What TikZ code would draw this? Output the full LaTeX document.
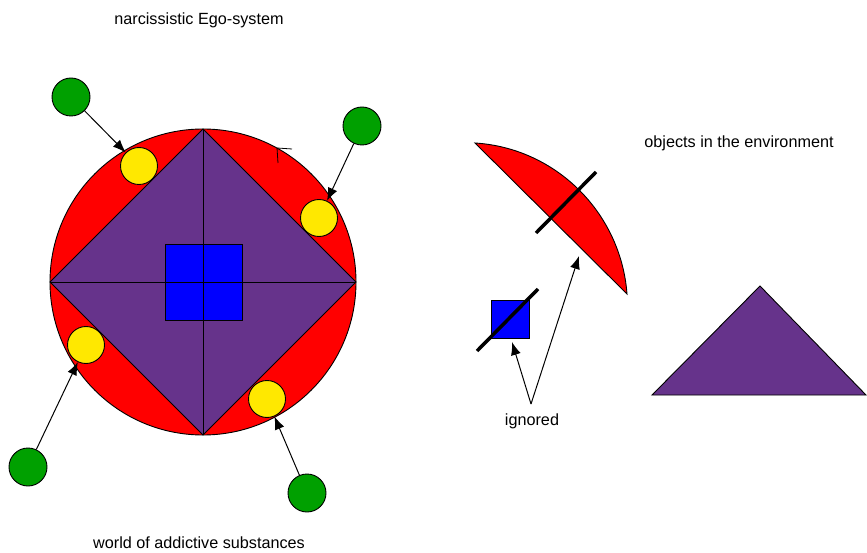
\documentclass[tikz,border=0pt]{standalone}
\usepackage{fontspec}
\setmainfont{Liberation Sans}
\usetikzlibrary{arrows.meta}
\definecolor{cRed}{RGB}{255,0,0}
\definecolor{cPurple}{RGB}{102,51,139}
\definecolor{cBlue}{RGB}{0,0,255}
\definecolor{cGreen}{RGB}{0,160,0}
\definecolor{cYellow}{RGB}{255,232,0}
\tikzset{
  outl/.style={draw=black, line width=0.9pt},
  greenball/.style={circle, outl, fill=cGreen, minimum size=38pt, inner sep=0pt},
  yellowball/.style={circle, outl, fill=cYellow, minimum size=37pt, inner sep=0pt},
  arr/.style={-{Latex[length=13pt,width=10pt]}, line width=1pt},
  strike/.style={line width=3.5pt, black},
  lbl/.style={font=\fontsize{16.2}{19}\selectfont, inner sep=0pt}
}
\begin{document}
\begin{tikzpicture}[x=1pt,y=-1pt]
\useasboundingbox (0,0) rectangle (867,553);
% main circle
\coordinate (ctr) at (203,282);
\filldraw[fill=cRed, outl] (ctr) circle (153pt);
\coordinate (dT) at (203,129);
\coordinate (dR) at (356,282);
\coordinate (dB) at (203,435);
\coordinate (dL) at (50,282);
\filldraw[fill=cPurple, outl] (dT) -- (dR) -- (dB) -- (dL) -- cycle;
\filldraw[fill=cBlue, outl] (165,244) rectangle (242,320);
\draw[outl] (dT) -- (dB);
\draw[outl] (dL) -- (dR);
% small tick mark
\draw[line width=0.8pt] (292,149) -- (277,148) -- (278,163);
% yellow balls
\node[yellowball] (y1) at (139,166) {};
\node[yellowball] (y2) at (319,218) {};
\node[yellowball] (y3) at (86,345) {};
\node[yellowball] (y4) at (267,399) {};
% green balls
\node[greenball] (g1) at (71,97) {};
\node[greenball] (g2) at (362,126) {};
\node[greenball] (g3) at (28,467) {};
\node[greenball] (g4) at (307,493) {};
\draw[arr] (g1) -- (y1);
\draw[arr] (g2) -- (y2);
\draw[arr] (g3) -- (y3);
\draw[arr] (g4) -- (y4);
% lens
\coordinate (lA) at (475,143);
\coordinate (lC) at (627,294);
\filldraw[fill=cRed, outl] (lA) .. controls (556,148) and (621,213) .. (lC) -- cycle;
\draw[strike] (536,233) -- (596,172);
% small square
\filldraw[fill=cBlue, outl] (491,300) rectangle (529,338);
\draw[strike] (477,351) -- (538,289);
% triangle
\filldraw[fill=cPurple, outl] (760,286) -- (866,395) -- (652,395) -- cycle;
% labels
\node[lbl] (t1) at (199,20) {narcissistic Ego-system};
\node[lbl] (t2) at (739,143) {objects in the environment};
\node[lbl] (t3) at (199,543) {world of addictive substances};
\node[lbl] (ign) at (532,421) {ignored};
\coordinate (ignTop) at (531,404);
\coordinate (tipSq) at (512,342);
\coordinate (tipLens) at (579,256);
\draw[arr] (ignTop) -- (tipSq);
\draw[arr] (ignTop) -- (tipLens);
\end{tikzpicture}
\end{document}
